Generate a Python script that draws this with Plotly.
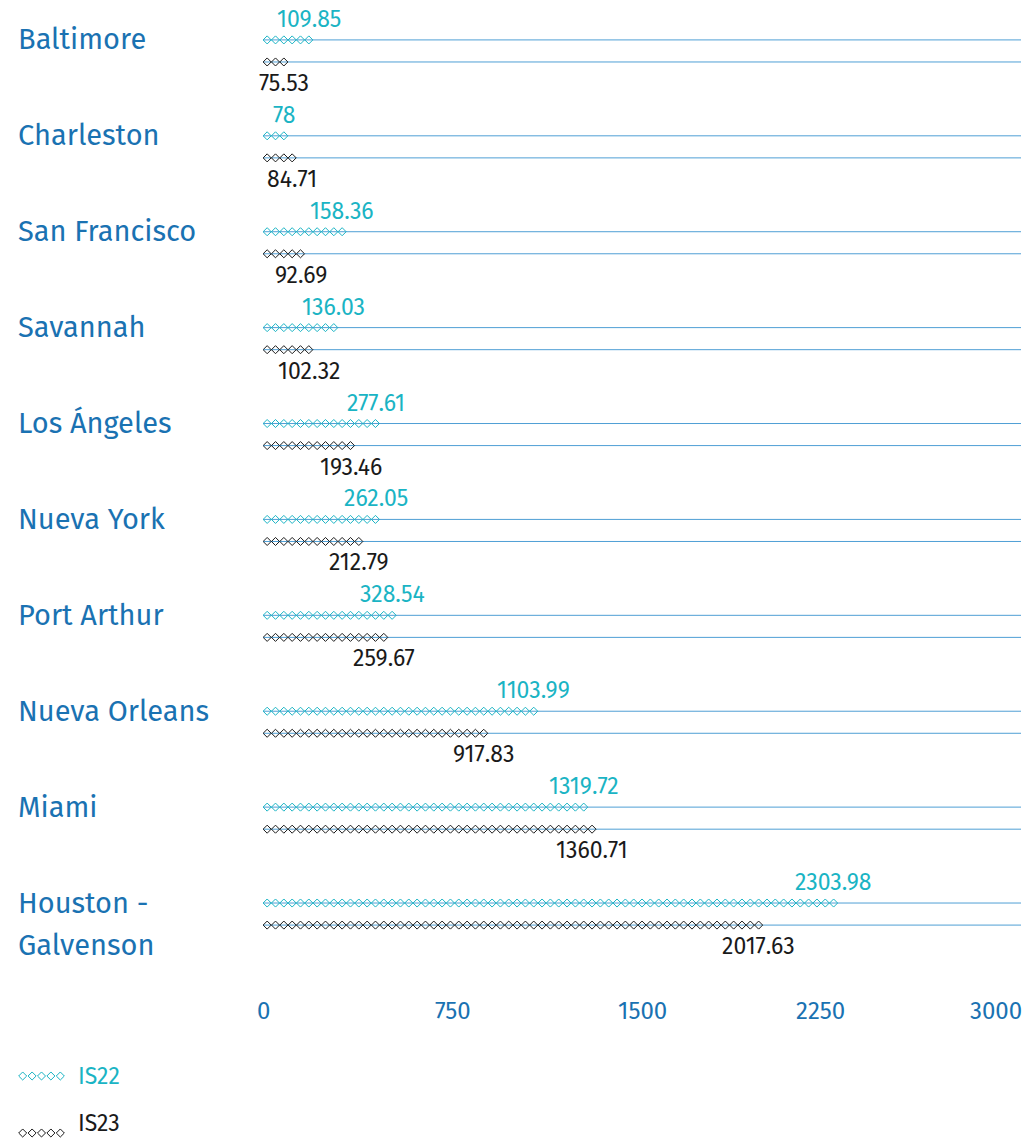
import plotly.graph_objects as go

# ---------------- data ----------------
cities = ["Baltimore", "Charleston", "San Francisco", "Savannah", "Los Ángeles",
          "Nueva York", "Port Arthur", "Nueva Orleans", "Miami", "Houston - Galvenson"]
is22_values = [109.85, 78, 158.36, 136.03, 277.61, 262.05, 328.54, 1103.99, 1319.72, 2303.98]
is23_values = [75.53, 84.71, 92.69, 102.32, 193.46, 212.79, 259.67, 917.83, 1360.71, 2017.63]
# number of diamond symbols drawn in each pictorial bar (counted on the picture)
is22_symbols = [6, 3, 10, 9, 14, 14, 16, 33, 39, 69]
is23_symbols = [3, 4, 5, 6, 11, 12, 15, 27, 40, 60]
x_ticks = [0, 750, 1500, 2250, 3000]
series_names = ["IS22", "IS23"]

# ---------------- style ----------------
W, H = 1026, 1140
FONT = "Fira Sans, Open Sans, sans-serif"
TEAL = "#1ab4c4"
BLACK = "#1a1a1a"
BLUE = "#1a72b2"
GRID = "#4f9fd5"
PLOT_L, PLOT_R = 263, 1021
PLOT_T, PLOT_B = 3, 962
XMAX = x_ticks[-1]
STEP_PX = 8.33
step = STEP_PX * XMAX / (PLOT_R - PLOT_L)
OFF = 0.115  # half gap between the two series within a category
MARK = dict(symbol="diamond-open", size=6.2)
MARK_LW = 1.0

fig = go.Figure()

for si, (name, vals, counts, color, sgn) in enumerate([
        ("IS22", is22_values, is22_symbols, TEAL, -1),
        ("IS23", is23_values, is23_symbols, BLACK, 1)]):
    xs, ys = [], []
    for i, n in enumerate(counts):
        y = i + sgn * OFF
        for k in range(n):
            xs.append(step * (k + 0.5))
            ys.append(y)
        # grid line behind this bar
        fig.add_shape(type="line", xref="x", yref="y", x0=0, x1=XMAX, y0=y, y1=y,
                      line=dict(color=GRID, width=1), layer="below")
        # value label
        fig.add_annotation(x=step * n, y=y, xref="x", yref="y", text=f"{vals[i]:g}",
                           showarrow=False, xanchor="center", yanchor="middle",
                           xshift=-4, yshift=-sgn * 21,
                           font=dict(family=FONT, size=23, color=color))
    fig.add_trace(go.Scatter(
        x=xs, y=ys, mode="markers", name=name, showlegend=False,
        marker=dict(**MARK, color=color, line=dict(color=color, width=MARK_LW)),
        hoverinfo="skip", xaxis="x", yaxis="y"))

# category labels
for i, c in enumerate(cities):
    parts = c.split(" - ")
    lines = [parts[0] + " -", parts[1]] if len(parts) > 1 else [c]
    for j, ln in enumerate(lines):
        fig.add_annotation(x=16 / W, xref="paper", y=i - OFF, yref="y", text=ln,
                           showarrow=False, xanchor="left", yanchor="middle",
                           yshift=-42 * j,
                           font=dict(family=FONT, size=29, color=BLUE))

# x tick labels
tick_shift = {2250: -11, 3000: 3}
for t in x_ticks:
    fig.add_annotation(x=t, xref="x", y=1 - 1011 / H, yref="paper", text=str(t),
                       showarrow=False,
                       xanchor="right" if t == XMAX else "center",
                       xshift=tick_shift.get(t, 0), yanchor="middle",
                       font=dict(family=FONT, size=24, color=BLUE))

# legend (glyphs on a pixel overlay axis)
legend_rows = [(series_names[0], TEAL, 1076, 1076), (series_names[1], BLACK, 1133, 1123)]
for name, color, gy, ty in legend_rows:
    lx = [18 + 9.4 * (k + 0.5) for k in range(5)]
    fig.add_trace(go.Scatter(
        x=lx, y=[gy] * 5, mode="markers", showlegend=False, hoverinfo="skip",
        marker=dict(**MARK, color=color, line=dict(color=color, width=MARK_LW)),
        xaxis="x2", yaxis="y2"))
    fig.add_annotation(x=76, y=ty, xref="x2", yref="y2", text=name, showarrow=False,
                       xanchor="left", yanchor="middle",
                       font=dict(family=FONT, size=23, color=color))

fig.update_layout(
    width=W, height=H, margin=dict(l=0, r=0, t=0, b=0),
    paper_bgcolor="white", plot_bgcolor="rgba(0,0,0,0)",
    showlegend=False,
    xaxis=dict(domain=[PLOT_L / W, PLOT_R / W], range=[0, XMAX], showgrid=False,
               zeroline=False, showticklabels=False, showline=False, fixedrange=True),
    yaxis=dict(domain=[1 - PLOT_B / H, 1 - PLOT_T / H], range=[len(cities) - 0.5, -0.5],
               showgrid=False, zeroline=False, showticklabels=False, showline=False,
               fixedrange=True),
    xaxis2=dict(domain=[0, 1], range=[0, W], visible=False, anchor="y2", fixedrange=True),
    yaxis2=dict(domain=[0, 1], range=[H, 0], visible=False, anchor="x2", fixedrange=True),
)

fig.write_html("out.html", config={"displayModeBar": False},
               post_script="document.body.style.margin='0';")
